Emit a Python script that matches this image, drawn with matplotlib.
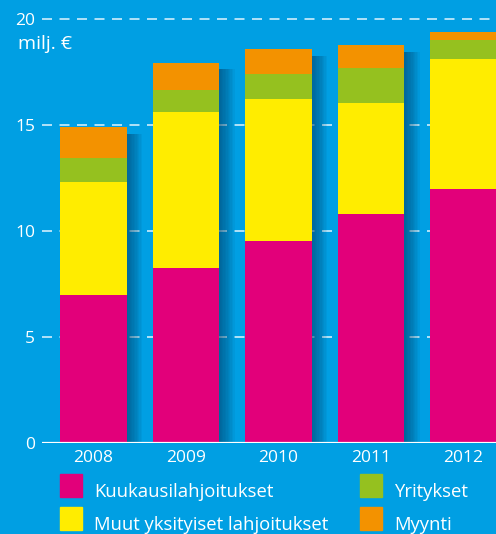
import numpy as np
import matplotlib.pyplot as plt
import matplotlib.patheffects as pe

# data (milj. €)
years = ["2008", "2009", "2010", "2011", "2012"]
kuukausi = [7.0, 8.25, 9.55, 10.8, 12.0]
muut = [5.3, 7.35, 6.7, 5.25, 6.1]
yritykset = [1.15, 1.05, 1.15, 1.65, 0.9]
myynti = [1.45, 1.3, 1.2, 1.08, 0.4]

series = [kuukausi, muut, yritykset, myynti]
names = ["Kuukausilahjoitukset", "Muut yksityiset lahjoitukset", "Yritykset", "Myynti"]
colors = ["#e2007a", "#ffed00", "#95c11f", "#f39200"]
yticks = [0, 5, 10, 15, 20]

bg = "#009fe3"
plt.rcParams['font.family'] = ['Open Sans', 'DejaVu Sans']

W, H = 496, 534
fig = plt.figure(figsize=(W / 100, H / 100), dpi=100)
fig.patch.set_facecolor(bg)
ax = fig.add_axes([42 / W, 91 / H, 1 - 42 / W, 443 / H])
ax.set_facecolor(bg)

x = np.arange(len(years))
w = 0.72

# soft drop shadow behind each full bar
totals = np.sum(series, axis=0)
shadow_fx = [pe.SimplePatchShadow(offset=(k, -5), shadow_rgbFace="#003f66", alpha=0.065)
             for k in range(11, 0, -1)]
ax.bar(x, totals, w, color=bg, zorder=2, path_effects=shadow_fx + [pe.Normal()])

bottom = np.zeros(len(years))
for vals, c in zip(series, colors):
    ax.bar(x, vals, w, bottom=bottom, color=c, zorder=3, linewidth=0)
    bottom += np.array(vals)

ax.set_xlim(-0.557, 4.351)
ax.set_ylim(0, 20.9)
for v in yticks[1:]:
    ax.axhline(v, color="#cfeefc", lw=1.2, dashes=(6, 4.5), zorder=1)
ax.axhline(0, color="white", lw=1.6, zorder=4)

for s in ax.spines.values():
    s.set_visible(False)
ax.set_yticks(yticks)
ax.set_yticklabels([str(v) for v in yticks])
ax.set_xticks(x)
ax.set_xticklabels(years)
ax.tick_params(axis="both", length=0, colors="white", labelsize=12.5)
ax.tick_params(axis="y", pad=5)
ax.tick_params(axis="x", pad=5)

fig.text(18 / W, 1 - 44 / H, "milj. €", color="white", fontsize=14,
         va="center", ha="left")

# legend
legend_pos = [(60, 474), (60, 507), (360, 474), (360, 507)]
for i, (px, py) in enumerate(legend_pos):
    fig.patches.append(plt.Rectangle((px / W, 1 - (py + 23) / H), 22 / W, 23 / H,
                                     transform=fig.transFigure, color=colors[i],
                                     path_effects=[pe.SimplePatchShadow(offset=(1, -1), alpha=0.2),
                                                   pe.Normal()]))
    fig.text((px + 34) / W, 1 - (py + 23) / H, names[i], color="white",
             fontsize=13.3, va="baseline", ha="left")

fig.savefig("out.png", dpi=100, facecolor=bg)
